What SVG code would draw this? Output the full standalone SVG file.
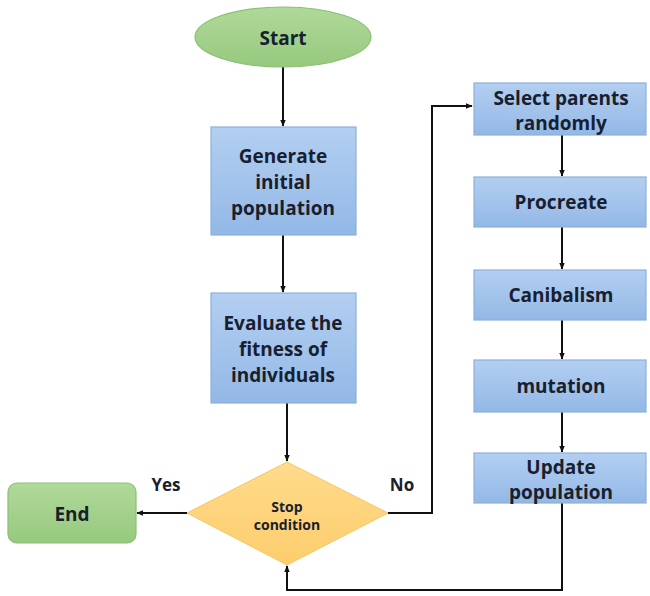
<svg xmlns="http://www.w3.org/2000/svg" width="650" height="596" viewBox="0 0 650 596">
<defs>
<linearGradient id="blue" x1="0" y1="0" x2="0" y2="1">
<stop offset="0" stop-color="#b3cff1"/>
<stop offset="1" stop-color="#93b8e6"/>
</linearGradient>
<linearGradient id="green" x1="0" y1="0" x2="0" y2="1">
<stop offset="0" stop-color="#b0d99a"/>
<stop offset="1" stop-color="#96c97e"/>
</linearGradient>
<linearGradient id="orange" x1="0" y1="0" x2="0" y2="1">
<stop offset="0" stop-color="#ffdb8c"/>
<stop offset="1" stop-color="#fccd6c"/>
</linearGradient>
<marker id="arr" viewBox="0 0 10 10" refX="9" refY="5" markerWidth="7" markerHeight="7" orient="auto-start-reverse" markerUnits="userSpaceOnUse">
<path d="M0,1 L10,5 L0,9 z" fill="#111"/>
</marker>
<style>
.box{fill:url(#blue);stroke:#8db0dc;stroke-width:1.2}
.t{font-family:"Open Sans",Lato,"Liberation Sans",sans-serif;font-weight:bold;font-size:19px;fill:#18202e;text-anchor:middle;dominant-baseline:central}
.s{font-size:14px}
.c{fill:none;stroke:#111;stroke-width:2}
</style>
</defs>
<rect width="650" height="596" fill="#fff"/>
<g id="connectors">
<line class="c" x1="283" y1="67" x2="283" y2="126" marker-end="url(#arr)"/>
<line class="c" x1="283" y1="235" x2="283" y2="292" marker-end="url(#arr)"/>
<line class="c" x1="287" y1="403" x2="287" y2="461" marker-end="url(#arr)"/>
<line class="c" x1="187" y1="513" x2="137" y2="513" marker-end="url(#arr)"/>
<polyline class="c" points="388,513 432,513 432,106 472,106" marker-end="url(#arr)"/>
<line class="c" x1="562" y1="135" x2="562" y2="176" marker-end="url(#arr)"/>
<line class="c" x1="562" y1="227" x2="562" y2="269" marker-end="url(#arr)"/>
<line class="c" x1="562" y1="320" x2="562" y2="359" marker-end="url(#arr)"/>
<line class="c" x1="562" y1="412" x2="562" y2="452" marker-end="url(#arr)"/>
<polyline class="c" points="562,503 562,590 287,590 287,566" marker-end="url(#arr)"/>
<text class="t" x="166" y="484" style="font-size:17px">Yes</text>
<text class="t" x="402" y="484" style="font-size:17px">No</text>
</g>
<g id="start">
<ellipse cx="283" cy="37" rx="88" ry="30" fill="url(#green)" stroke="#8cbf72" stroke-width="1.2"/>
<text class="t" x="283" y="38">Start</text>
</g>
<g id="generate">
<rect class="box" x="211" y="127" width="145" height="108"/>
<text class="t" x="283" y="156">Generate</text>
<text class="t" x="283" y="182">initial</text>
<text class="t" x="283" y="208">population</text>
</g>
<g id="evaluate">
<rect class="box" x="211" y="293" width="145" height="110"/>
<text class="t" x="283" y="323">Evaluate the</text>
<text class="t" x="283" y="349">fitness of</text>
<text class="t" x="283" y="375">individuals</text>
</g>
<g id="stop">
<polygon points="287,462 388,513 287,565 187,513" fill="url(#orange)" stroke="#f5c665" stroke-width="1"/>
<text class="t s" x="287" y="506">Stop</text>
<text class="t s" x="287" y="524">condition</text>
</g>
<g id="end">
<rect x="8" y="483" width="128" height="60" rx="9" fill="url(#green)" stroke="#8cbf72" stroke-width="1.2"/>
<text class="t" x="72" y="514">End</text>
</g>
<g id="select">
<rect class="box" x="474" y="83" width="172" height="52"/>
<text class="t" x="561" y="98">Select parents</text>
<text class="t" x="561" y="123">randomly</text>
</g>
<g id="procreate">
<rect class="box" x="474" y="177" width="172" height="50"/>
<text class="t" x="561" y="202">Procreate</text>
</g>
<g id="canibalism">
<rect class="box" x="474" y="270" width="172" height="50"/>
<text class="t" x="561" y="295">Canibalism</text>
</g>
<g id="mutation">
<rect class="box" x="474" y="360" width="172" height="52"/>
<text class="t" x="561" y="386">mutation</text>
</g>
<g id="update">
<rect class="box" x="474" y="453" width="172" height="50"/>
<text class="t" x="561" y="467">Update</text>
<text class="t" x="561" y="492">population</text>
</g>
</svg>
